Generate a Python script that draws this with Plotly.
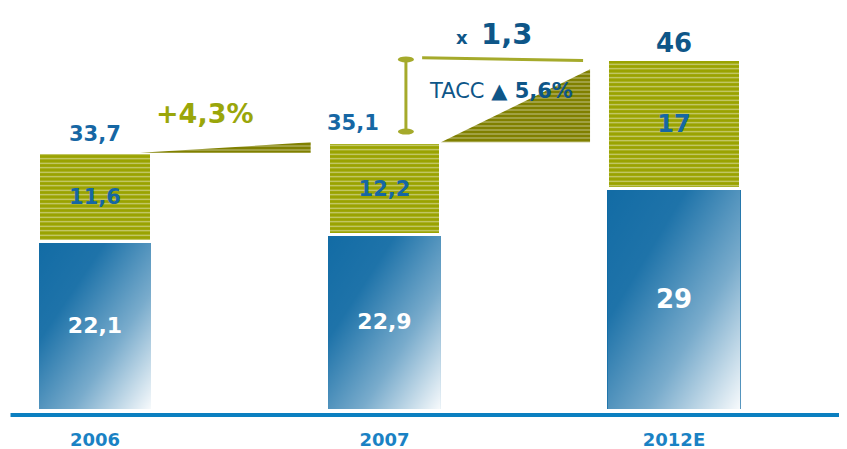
import base64
import plotly.graph_objects as go

# ---- data ----
categories = ["2006", "2007", "2012E"]
base_values = [22.1, 22.9, 29]
top_values = [11.6, 12.2, 17]
totals = [33.7, 35.1, 46]
growth_label = "+4,3%"
multiple_label = "1,3"
cagr_label = "5,6%"


def fmt(v):
    return f"{v:g}".replace(".", ",")


# ---- style ----
FONT = "DejaVu Sans"
BLUE = "#0b67a2"
OLIVE = "#9aa300"
WEDGE = "#808000"
LABEL = "#1667a4"
DARK = "#0e5688"
TICK = "#1a82c4"
LINE_OLIVE = "#a5aa2b"

xs = list(range(len(categories)))
widths = [0.39, 0.39, 0.46]

fig = go.Figure()

fig.add_bar(
    x=xs, y=base_values, width=widths,
    marker=dict(color=BLUE, line=dict(width=0)),
    text=[f"<b>{fmt(v)}</b>" for v in base_values],
    textposition="inside", insidetextanchor="middle",
    textfont=dict(family=FONT, size=[22, 22, 26], color="white"),
    hoverinfo="skip",
)
fig.add_bar(
    x=xs, y=top_values, width=widths,
    marker=dict(color=OLIVE, line=dict(color="white", width=3),
                pattern=dict(shape="-", bgcolor=OLIVE, fgcolor="white",
                             size=4.5, solidity=0.26)),
    text=[f"<b>{fmt(v)}</b>" for v in top_values],
    textposition="inside", insidetextanchor="middle",
    textfont=dict(family=FONT, size=[21, 21, 24], color=LABEL),
    hoverinfo="skip",
)

# gradient overlay for blue bars
svg = ('<svg xmlns="http://www.w3.org/2000/svg" width="100" height="100" '
       'viewBox="0 0 100 100" preserveAspectRatio="none"><defs>'
       '<linearGradient id="g" x1="0" y1="0" x2="1" y2="1">'
       '<stop offset="0" stop-color="#fff" stop-opacity="0.03"/>'
       '<stop offset="0.3" stop-color="#fff" stop-opacity="0.08"/>'
       '<stop offset="0.65" stop-color="#fff" stop-opacity="0.45"/>'
       '<stop offset="1" stop-color="#fff" stop-opacity="0.97"/>'
       '</linearGradient></defs><rect width="100" height="100" fill="url(#g)"/></svg>')
src = "data:image/svg+xml;base64," + base64.b64encode(svg.encode()).decode()
for i, v in enumerate(base_values):
    fig.add_layout_image(source=src, xref="x", yref="y", x=xs[i], y=v,
                         sizex=widths[i], sizey=v, xanchor="center",
                         yanchor="top", sizing="stretch", layer="above")

# growth wedges between bar tops
for i in range(len(totals) - 1):
    x0 = xs[i] + widths[i] / 2 - (0.04 if i == 0 else 0.0)
    x1 = xs[i + 1] - widths[i + 1] / 2 - 0.06
    y0 = totals[i]
    y1 = totals[i + 1] - (1.3 if i == 1 else 0.0)
    fig.add_scatter(
        x=[x0, x1, x1, x0], y=[y0, y0, y1, y0], mode="lines",
        line=dict(width=0), fill="toself", fillcolor=WEDGE,
        fillpattern=dict(shape="-", bgcolor=WEDGE, fgcolor="white",
                         size=4, solidity=0.26),
        hoverinfo="skip",
    )

# bracket
bx = 1.074
fig.add_scatter(x=[bx, bx], y=[totals[1] + 1.4, totals[2]], mode="lines",
                line=dict(color=LINE_OLIVE, width=3), hoverinfo="skip")
for yy in [totals[1] + 1.4, totals[2]]:
    fig.add_shape(type="circle", xref="x", yref="y", xsizemode="pixel",
                  ysizemode="pixel", xanchor=bx, yanchor=yy,
                  x0=-8, x1=8, y0=-3, y1=3, fillcolor=LINE_OLIVE,
                  line=dict(width=0))
fig.add_scatter(x=[1.13, 1.686], y=[totals[2] + 0.2, totals[2] - 0.15],
                mode="lines", line=dict(color=LINE_OLIVE, width=3),
                hoverinfo="skip")

# baseline
fig.add_shape(type="line", xref="paper", yref="paper", x0=0.003, x1=1,
              y0=0, y1=0, line=dict(color="#0b7fc0", width=4))

ann = []
ann.append(dict(x=xs[0], y=totals[0], text=f"<b>{fmt(totals[0])}</b>",
                yanchor="bottom", yshift=5, font=dict(size=21, color=LABEL)))
ann.append(dict(x=0.89, y=totals[1], text=f"<b>{fmt(totals[1])}</b>",
                yanchor="bottom", yshift=5, font=dict(size=21, color=LABEL)))
ann.append(dict(x=xs[2], y=totals[2], text=f"<b>{fmt(totals[2])}</b>",
                yanchor="bottom", yshift=-1, font=dict(size=26, color=DARK)))
ann.append(dict(x=0.38, y=totals[0], text=f"<b>{growth_label}</b>",
                yanchor="bottom", yshift=22, font=dict(size=27, color="#9aa60a")))
ann.append(dict(x=1.268, y=totals[2], text="<b>x</b>", yanchor="bottom",
                yshift=9, font=dict(size=18, color=DARK)))
ann.append(dict(x=1.423, y=totals[2], text=f"<b>{multiple_label}</b>",
                yanchor="bottom", yshift=6, font=dict(size=29, color=DARK)))
ann.append(dict(x=1.402, y=totals[2], text=f"TACC <b>\u25B2 {cagr_label}</b>",
                yanchor="top", yshift=-18, font=dict(size=21, color=DARK)))
for a in ann:
    a.update(xref="x", yref="y", showarrow=False)
    a["font"]["family"] = FONT

fig.update_layout(
    width=839, height=441,
    margin=dict(l=0, r=0, t=0, b=34),
    paper_bgcolor="white", plot_bgcolor="white",
    barmode="stack", showlegend=False,
    annotations=ann,
    xaxis=dict(range=[-0.3005, 2.5976], tickvals=xs,
               ticktext=[f"<b>{c}</b>" for c in categories],
               tickfont=dict(family=FONT, size=18, color=TICK),
               ticks="outside", ticklen=8, tickcolor="rgba(0,0,0,0)",
               showgrid=False, zeroline=False, showline=False),
    yaxis=dict(range=[-0.79, 52.76], visible=False),
)

fig.write_html("out.html")
